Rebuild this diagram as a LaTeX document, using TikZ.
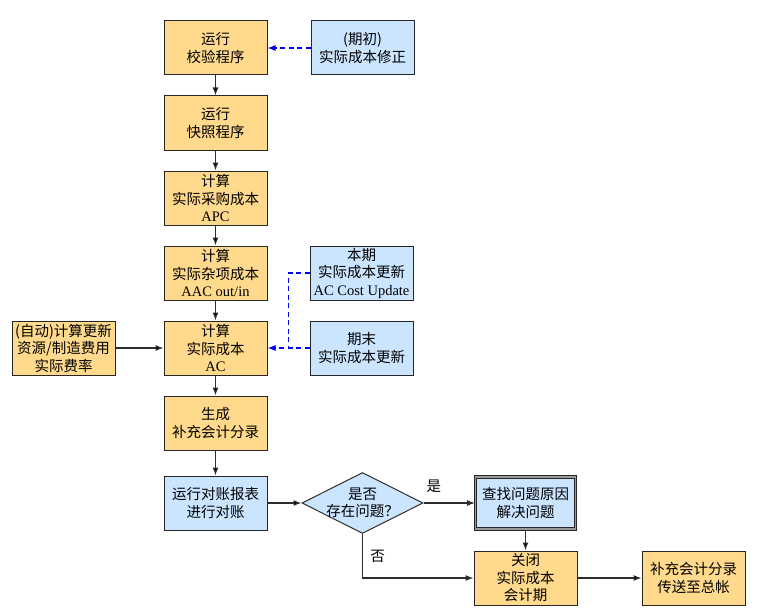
\documentclass[tikz,border=0pt]{standalone}
\usepackage{fontspec}
\setmainfont{Liberation Serif}
\newfontfamily\cjk{Noto Sans CJK SC}
\usetikzlibrary{shapes.geometric,arrows.meta,positioning}
\definecolor{boxorange}{RGB}{255,217,140}
\definecolor{boxblue}{RGB}{204,229,255}
\definecolor{linegray}{RGB}{45,45,45}
\begin{document}
\begin{tikzpicture}[x=1pt,y=1pt,->,>={Latex[length=8pt,width=6pt]},semithick,every node/.style={node distance=75pt}]
    \tikzset{stepbox/.style={draw=black!85,line width=1pt,minimum width=103pt,minimum height=54pt,inner sep=1pt,align=center,font=\cjk\fontsize{14.5}{17.5}\selectfont},
      orangebox/.style={stepbox,fill=boxorange},
      bluebox/.style={stepbox,fill=boxblue},
      decision/.style={diamond,draw=linegray,fill=boxblue,line width=1pt,minimum width=121pt,minimum height=61pt,inner sep=-14pt,align=center,font=\cjk\fontsize{14.5}{17.5}\selectfont},
      flow/.style={draw=linegray,line width=1.1pt},
      hint/.style={draw=blue,dash pattern=on 5pt off 3.5pt,line width=1.1pt},
      tag/.style={font=\cjk\fontsize{14.5}{17.5}\selectfont}};
    \useasboundingbox (0,0) rectangle (765,-615);
    \node[orangebox] (check) at (215.5,-48) {运行\\校验程序};
    \node[bluebox, right of=check, node distance=147pt] (open) {(期初)\\实际成本修正};
    \node[orangebox, below of=check] (snap) {运行\\快照程序};
    \node[orangebox, below of=snap] (apc) {计算\\实际采购成本\\{\rmfamily APC}};
    \node[orangebox, below of=apc] (aac) {计算\\实际杂项成本\\{\rmfamily AAC out/in}};
    \node[orangebox, below of=aac] (ac) {计算\\实际成本\\{\rmfamily AC}};
    \node[orangebox, left of=ac, node distance=152pt] (rate) {(自动)计算更新\\资源/制造费用\\实际费率};
    \node[bluebox, right of=aac, node distance=146pt] (cur) {本期\\实际成本更新\\{\rmfamily AC Cost Update}};
    \node[bluebox, right of=ac, node distance=146pt] (fin) {期末\\实际成本更新};
    \node[orangebox, below of=ac] (entry) {生成\\补充会计分录};
    \node[bluebox, below of=entry, node distance=80pt] (recon) {运行对账报表\\进行对账};
    \node[decision, right of=recon, node distance=147pt] (ask) {是否\\存在问题？};
    \node[bluebox, double=gray!80, double distance=1.6pt, minimum width=100pt, minimum height=52pt, right of=ask, node distance=163pt] (find) {查找问题原因\\解决问题};
    \node[orangebox, below of=find] (close) {关闭\\实际成本\\会计期};
    \node[orangebox, right of=close, node distance=168pt] (post) {补充会计分录\\传送至总帐};
    \coordinate[right=21pt of ac.east] (join);
    {
      \path[flow]
        (check) edge (snap)
        (snap) edge (apc)
        (apc) edge (aac)
        (aac) edge (ac)
        (ac) edge (entry)
        (entry) edge (recon)
        (rate) edge (ac)
        (recon) edge (ask)
        (find) edge (close)
        (close) edge (post)
        ;
    }
    \path[hint] (open) edge (check);
    \draw[hint,-] (cur.west) -| (join);
    \draw[hint] (fin.west) -- (ac.east);
    \draw[flow] (ask) -- node[tag, pos=0.2, above=6pt] {是} (find);
    \draw[flow] (ask.south) |- node[tag, pos=0.25, right=4pt] {否} (close.west);
\end{tikzpicture}
\end{document}
